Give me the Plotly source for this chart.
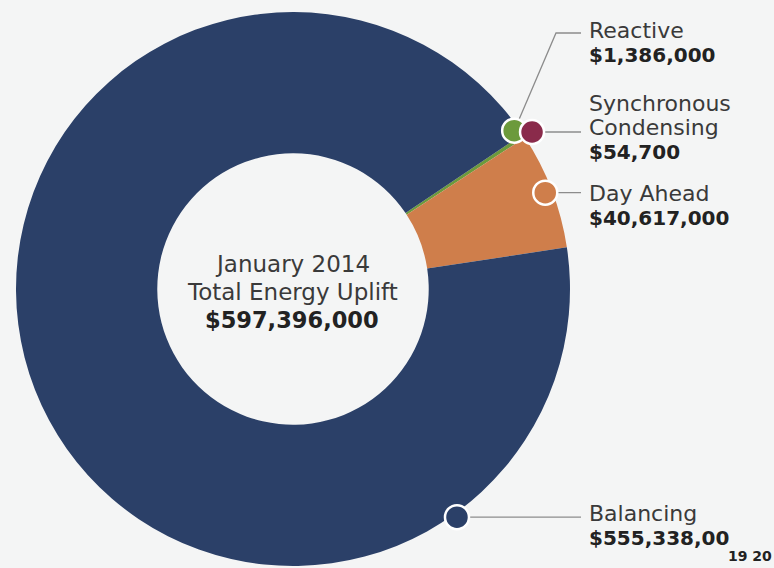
import math
import plotly.graph_objects as go

# ---------------- data ----------------
categories = ["Reactive", "Synchronous Condensing", "Day Ahead", "Balancing"]
values = [1386000, 54700, 40617000, 555338000]
label_names = [["Reactive"], ["Synchronous", "Condensing"], ["Day Ahead"], ["Balancing"]]
value_labels = ["$1,386,000", "$54,700", "$40,617,000", "$555,338,00"]
center_lines = ["January 2014", "Total Energy Uplift"]
center_total = "$597,396,000"
page_numbers = "19 20"

# ---------------- styles / layout ----------------
colors = ["#6c9a3c", "#8a2b4b", "#cf7e4b", "#2b4068"]
BG = "#f4f5f5"
W, H = 774, 568
CX, CY, R = 293, 289, 277          # pie centre and radius (pixels)
HOLE = 0.49
ROTATION = 56                       # first slice starts 56 deg clockwise from 12 o'clock
FONT = "DejaVu Sans"
LINE_COLOR = "#8c8c8c"
DOT_R = 12

dot_angle = [35.6, 33.3, None, -54.3]   # None -> slice mid-angle
dot_rad = [272, 286, 270, 281]
label_x = 587
label_top = [30, 103, 193, 513]         # centre y of first text line
line_gap = 24.5
LEADER_END_X = 581
leader_bends = [[(556, 33), (LEADER_END_X, 33)], [], [], []]

total = sum(values)
fig = go.Figure()
fig.add_trace(go.Pie(
    values=values, labels=categories, sort=False, direction="clockwise",
    rotation=ROTATION, hole=HOLE, textinfo="none", showlegend=False,
    marker=dict(colors=colors, line=dict(width=0)),
    domain=dict(x=[(CX - R) / W, (CX + R) / W],
                y=[(H - CY - R) / H, (H - CY + R) / H]),
))

# slice mid angles (math convention, degrees)
mid = []
start = 90 - ROTATION
for v in values:
    span = 360 * v / total
    mid.append(start - span / 2)
    start -= span


def dot_xy(i):
    ang = dot_angle[i] if dot_angle[i] is not None else mid[i]
    return (CX + dot_rad[i] * math.cos(math.radians(ang)),
            CY - dot_rad[i] * math.sin(math.radians(ang)))


shapes = []
annotations = []
for i in range(len(categories)):
    dx, dy = dot_xy(i)
    pts = [(dx, dy)] + (leader_bends[i] if leader_bends[i] else [(LEADER_END_X, dy)])
    path = "M " + " L ".join(f"{x:.1f},{y:.1f}" for x, y in pts)
    shapes.append(dict(type="path", path=path, xref="x", yref="y",
                       line=dict(color=LINE_COLOR, width=1.3), layer="above"))
for i in range(len(categories)):
    dx, dy = dot_xy(i)
    shapes.append(dict(type="circle", xref="x", yref="y",
                       x0=dx - DOT_R, x1=dx + DOT_R, y0=dy - DOT_R, y1=dy + DOT_R,
                       fillcolor=colors[i], line=dict(color="white", width=2.5),
                       layer="above"))
    y = label_top[i]
    for name in label_names[i]:
        annotations.append(dict(x=label_x, y=y, xref="x", yref="y", text=name,
                                showarrow=False, xanchor="left", yanchor="middle",
                                font=dict(family=FONT, size=22, color="#3a3a3a")))
        y += line_gap
    annotations.append(dict(x=label_x, y=y, xref="x", yref="y",
                            text="<b>" + value_labels[i] + "</b>",
                            showarrow=False, xanchor="left", yanchor="middle",
                            font=dict(family=FONT, size=20, color="#222222")))

# centre text
cy_lines = [264, 292]
for t, yy in zip(center_lines, cy_lines):
    annotations.append(dict(x=CX - 1, y=yy, xref="x", yref="y", text=t,
                            showarrow=False, xanchor="center", yanchor="middle",
                            font=dict(family=FONT, size=23, color="#3a3a3a")))
annotations.append(dict(x=CX - 1, y=320, xref="x", yref="y",
                        text="<b>" + center_total + "</b>",
                        showarrow=False, xanchor="center", yanchor="middle",
                        font=dict(family=FONT, size=22.5, color="#222222")))
annotations.append(dict(x=750, y=556, xref="x", yref="y", text="<b>" + page_numbers + "</b>",
                        showarrow=False, xanchor="center", yanchor="middle",
                        font=dict(family="Liberation Sans Narrow, " + FONT, size=14,
                                  color="#222222")))

fig.update_layout(
    width=W, height=H, margin=dict(l=0, r=0, t=0, b=0),
    paper_bgcolor=BG, plot_bgcolor="rgba(0,0,0,0)",
    xaxis=dict(range=[0, W], visible=False, domain=[0, 1], fixedrange=True),
    yaxis=dict(range=[H, 0], visible=False, domain=[0, 1], fixedrange=True),
    shapes=shapes, annotations=annotations, showlegend=False,
)
fig.write_html("out.html", config={"displayModeBar": False},
               post_script="document.body.style.margin='0';document.body.style.padding='0';")
